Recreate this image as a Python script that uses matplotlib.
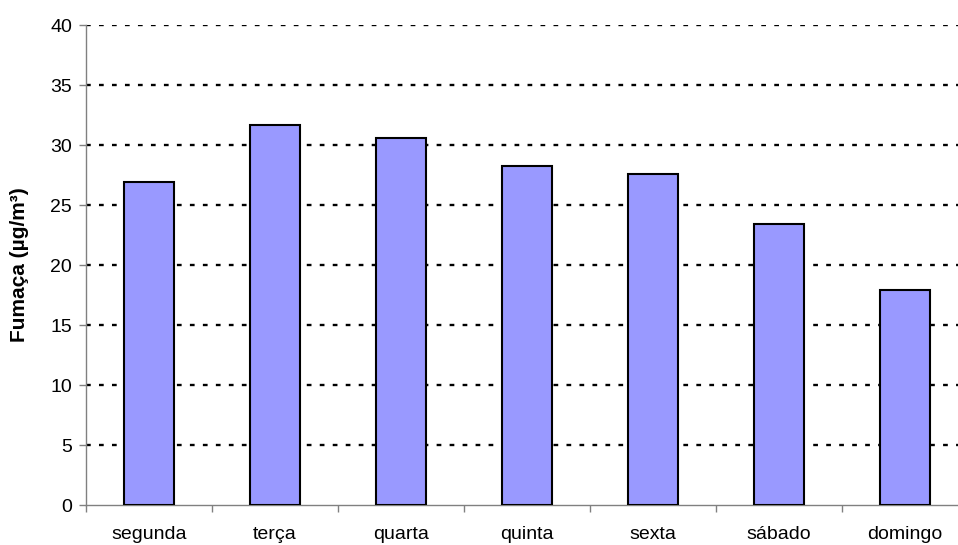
import matplotlib
matplotlib.use('Agg')
from matplotlib import pyplot as plt
import numpy as np

dias = ['segunda', 'terça', 'quarta', 'quinta', 'sexta', 'sábado', 'domingo']
fumaca = [26.9, 31.7, 30.55, 28.25, 27.55, 23.4, 17.9]
yticks = [0, 5, 10, 15, 20, 25, 30, 35, 40]

plt.rcParams['font.family'] = ['Liberation Sans', 'DejaVu Sans']

fig = plt.figure(figsize=(9.58, 5.45), dpi=100)
W, H = 958, 545
ax = fig.add_axes([86 / W, 40 / H, (968 - 86) / W, 480 / H])

x = np.arange(len(dias))
ax.bar(x, fumaca, width=0.4, color='#9999FF', edgecolor='black',
       linewidth=1.5, zorder=3)

ax.set_xlim(-0.5, len(dias) - 0.5)
ax.set_ylim(0, 40)
ax.set_yticks(yticks)
ax.set_yticklabels([str(t) for t in yticks], fontsize=14)
for t in yticks[1:]:
    ax.axhline(t, color='black', linewidth=1.7, linestyle=(0, (2, 3.5)), zorder=1)

ax.set_xticks(x)
ax.set_xticklabels(dias, fontsize=14)
ax.set_xticks(np.arange(-0.5, len(dias), 1), minor=True)
ax.tick_params(axis='x', which='major', length=0, pad=15)
ax.tick_params(axis='x', which='minor', length=5, width=1, color='#808080')
ax.tick_params(axis='y', length=5, width=1, color='#808080', pad=5)

for s in ['top', 'right']:
    ax.spines[s].set_visible(False)
for s in ['left', 'bottom']:
    ax.spines[s].set_color('#808080')
    ax.spines[s].set_linewidth(1)

ax.set_ylabel('Fumaça (µg/m³)', fontsize=15, fontweight='bold', labelpad=15)

fig.savefig('out.png', dpi=100)
